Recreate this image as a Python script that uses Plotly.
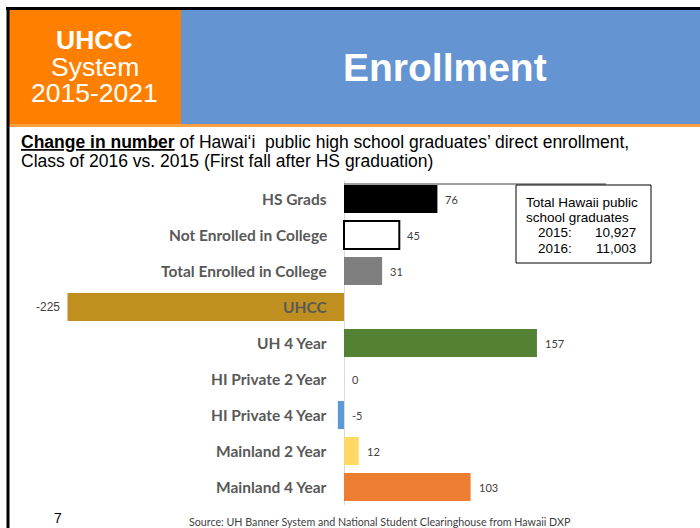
import plotly.graph_objects as go

W, H = 700, 528

categories = ["HS Grads", "Not Enrolled in College", "Total Enrolled in College", "UHCC",
              "UH 4 Year", "HI Private 2 Year", "HI Private 4 Year", "Mainland 2 Year", "Mainland 4 Year"]
values = [76, 45, 31, -225, 157, 0, -5, 12, 103]
bar_colors = ["#000000", "#FFFFFF", "#7F7F7F", "#BF9020", "#548235", "#5B9BD5", "#5B9BD5", "#FFD966", "#ED7D31"]
line_widths = [0, 2, 0, 0, 0, 0, 0, 0, 0]

box_title = ["Total Hawaii public", "school graduates"]
box_years = ["2015:", "2016:"]
box_totals = ["10,927", "11,003"]


def px(x):
    return x / W


def py(y):
    return 1 - y / H


XMIN, XMAX = -230, 260
SCALE = 1.229
ZERO_PX = 344
x0 = ZERO_PX + XMIN * SCALE
x1 = ZERO_PX + XMAX * SCALE

fig = go.Figure()
fig.add_trace(go.Bar(
    y=categories, x=values, orientation="h",
    marker=dict(color=bar_colors, line=dict(color="#000000", width=line_widths)),
    hoverinfo="skip", showlegend=False,
))

annotations = []
# category labels
for c in categories:
    annotations.append(dict(x=0, y=c, xref="x", yref="y", text=c, showarrow=False,
                            xanchor="right", yanchor="middle", xshift=-15,
                            font=dict(family="Lato", size=15.5, color="#595959", weight="bold")))
# value labels
for c, v in zip(categories, values):
    if v < -50:
        annotations.append(dict(x=v, y=c, xref="x", yref="y", text=str(v), showarrow=False,
                                xanchor="right", yanchor="middle", xshift=-5,
                                font=dict(family="Liberation Sans", size=12, color="#404040")))
    else:
        annotations.append(dict(x=max(v, 0), y=c, xref="x", yref="y", text=str(v), showarrow=False,
                                xanchor="left", yanchor="middle", xshift=6,
                                font=dict(family="Lato", size=11, color="#404040")))

# header texts
hdr = [("<b>UHCC</b>", 40), ("System", 67), ("2015-2021", 93)]
for t, yy in hdr:
    annotations.append(dict(x=px(95), y=py(yy), xref="paper", yref="paper", text=t, showarrow=False,
                            xanchor="center", yanchor="middle",
                            font=dict(family="Liberation Sans", size=26.5, color="white")))
annotations.append(dict(x=px(445), y=py(67), xref="paper", yref="paper", text="<b>Enrollment</b>",
                        showarrow=False, xanchor="center", yanchor="middle",
                        font=dict(family="Liberation Sans", size=39, color="white")))

# subtitle
annotations.append(dict(x=px(19), y=py(142), xref="paper", yref="paper",
                        text="<b><u>Change in number</u></b> of Hawai\u2018i  public high school graduates\u2019 direct enrollment,",
                        showarrow=False, xanchor="left", yanchor="middle",
                        font=dict(family="Liberation Sans", size=17.5, color="black")))
annotations.append(dict(x=px(19), y=py(161), xref="paper", yref="paper",
                        text="Class of 2016 vs. 2015 (First fall after HS graduation)",
                        showarrow=False, xanchor="left", yanchor="middle",
                        font=dict(family="Liberation Sans", size=17.5, color="black")))

# info box text
for i, t in enumerate(box_title):
    annotations.append(dict(x=px(524), y=py(202 + 15 * i), xref="paper", yref="paper", text=t,
                            showarrow=False, xanchor="left", yanchor="middle",
                            font=dict(family="Liberation Sans", size=13.5, color="black")))
for i, (yr, tot) in enumerate(zip(box_years, box_totals)):
    annotations.append(dict(x=px(536), y=py(232 + 16 * i), xref="paper", yref="paper", text=yr,
                            showarrow=False, xanchor="left", yanchor="middle",
                            font=dict(family="Liberation Sans", size=13.5, color="black")))
    annotations.append(dict(x=px(638), y=py(232 + 16 * i), xref="paper", yref="paper", text=tot,
                            showarrow=False, xanchor="right", yanchor="middle",
                            font=dict(family="Liberation Sans", size=13.5, color="black")))

# footer
annotations.append(dict(x=px(52), y=py(518), xref="paper", yref="paper", text="7", showarrow=False,
                        xanchor="left", yanchor="middle",
                        font=dict(family="Liberation Sans", size=14, color="black")))
annotations.append(dict(x=px(380), y=py(521), xref="paper", yref="paper",
                        text="Source: UH Banner System and National Student Clearinghouse from Hawaii DXP",
                        showarrow=False, xanchor="center", yanchor="middle",
                        font=dict(family="Lato", size=10.7, color="#404040")))

shapes = [
    # banner
    dict(type="rect", xref="paper", yref="paper", x0=px(180), x1=px(700), y0=py(124), y1=py(10),
         fillcolor="#6494D1", line=dict(width=0), layer="below"),
    dict(type="rect", xref="paper", yref="paper", x0=px(9), x1=px(181), y0=py(124), y1=py(10),
         fillcolor="#FF8000", line=dict(width=0), layer="below"),
    dict(type="rect", xref="paper", yref="paper", x0=px(9), x1=px(700), y0=py(127), y1=py(124),
         fillcolor="#F9A040", line=dict(width=0), layer="below"),
    # frame
    dict(type="line", xref="paper", yref="paper", x0=px(6), x1=px(700), y0=py(8.5), y1=py(8.5),
         line=dict(color="black", width=3)),
    dict(type="line", xref="paper", yref="paper", x0=px(8), x1=px(8), y0=py(7), y1=py(528),
         line=dict(color="black", width=3)),
    # chart top edge
    dict(type="line", xref="paper", yref="paper", x0=px(344), x1=px(606), y0=py(184), y1=py(184),
         line=dict(color="#404040", width=1)),
    # info box
    dict(type="rect", xref="paper", yref="paper", x0=px(516), x1=px(651), y0=py(263), y1=py(185),
         fillcolor="white", line=dict(color="black", width=1)),
]

fig.update_layout(
    width=W, height=H, margin=dict(l=0, r=0, t=0, b=0),
    paper_bgcolor="white", plot_bgcolor="rgba(0,0,0,0)",
    bargap=0.22,
    xaxis=dict(range=[XMIN, XMAX], domain=[px(x0), px(x1)], showgrid=False, showticklabels=False,
               zeroline=True, zerolinecolor="#D9D9D9", zerolinewidth=1, fixedrange=True),
    yaxis=dict(categoryorder="array", categoryarray=categories, range=[8.5, -0.5],
               domain=[py(505), py(181)], showticklabels=False, showgrid=False, fixedrange=True),
    annotations=annotations, shapes=shapes,
)

fig.write_html("out.html", config={"displayModeBar": False},
               post_script="document.body.style.margin='0';document.body.style.overflow='hidden';")
